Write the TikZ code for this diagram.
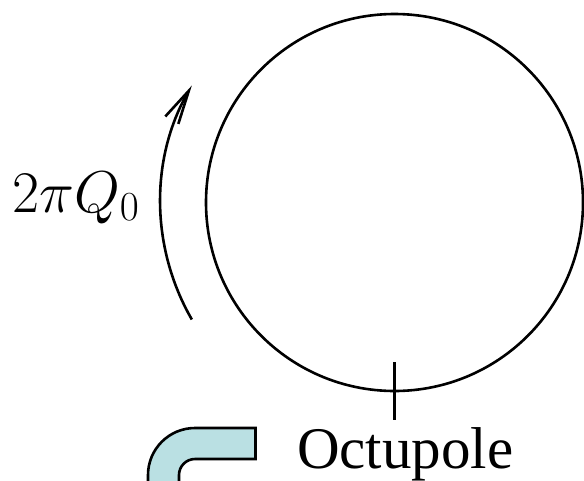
\RequirePackage{fix-cm}
\documentclass[tikz,border=0pt]{standalone}
\usepackage{fontspec}
\newfontfamily\timesfont{Liberation Serif}
\usetikzlibrary{arrows.meta,calc}
\definecolor{pipecol}{RGB}{186,224,227}
\tikzset{
  ringline/.style={circle, draw, line width=2.6pt, minimum size=377pt, inner sep=0pt},
  tickline/.style={line width=3pt},
  turnline/.style={line width=2.6pt, -{Straight Barb[length=34pt,width=15pt,line width=2.6pt]}},
  pipeshape/.style={draw, fill=pipecol, line width=2.6pt, line join=miter},
  biglabel/.style={anchor=base west, inner sep=0pt}
}
\begin{document}
\begin{tikzpicture}[x=1pt,y=-1pt]
\useasboundingbox (0,0) rectangle (584,480);
\clip (0,0) rectangle (584,480);
\coordinate (c) at (394.5,202.5);
\node[ringline] (ring) at (c) {};
\coordinate (ticktop) at ([yshift=30pt]ring.south);
\coordinate (tickbot) at ([yshift=-28pt]ring.south);
\draw[tickline] (ticktop) -- (tickbot);
\coordinate (arcstart) at ($(c)+(150:234)$);
\draw[turnline] (arcstart) arc[start angle=150, end angle=210, radius=234];
\node[biglabel, font=\fontsize{59}{60}\selectfont] (q) at (12,212) {$2\pi Q_0$};
\node[biglabel, font=\timesfont\fontsize{59}{60}\selectfont] (oct) at (297,468) {Octupole};
\draw[pipeshape] (255.5,428) -- (195,428) arc[start angle=-90, end angle=-180, radius=47]
  -- (148,510) -- (179,510) -- (179,475) arc[start angle=180, end angle=270, radius=16]
  -- (255.5,459) -- cycle;
\end{tikzpicture}
\end{document}
